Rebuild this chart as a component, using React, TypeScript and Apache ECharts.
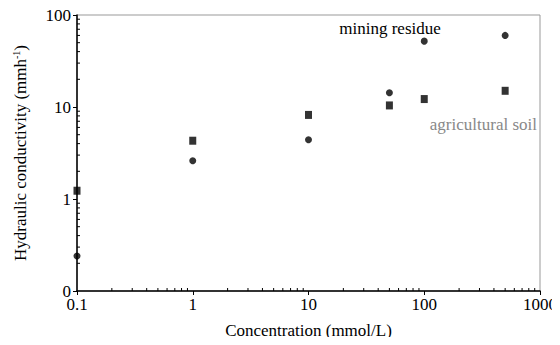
import React, { useEffect, useRef } from "react";
import * as echarts from "echarts";

const concentrations = [0.1, 1, 10, 50, 100, 500];
const miningResidue = [0.24, 2.6, 4.4, 14.3, 52, 60];
const agriculturalSoil = [1.23, 4.3, 8.2, 10.4, 12.2, 15];
const xDecades = [0.1, 1, 10, 100];
const yDecades = [0.1, 1, 10];
const minorMultipliers = [2, 3, 4, 5, 6, 7, 8, 9];

const FONT = "Liberation Serif";

export default function App() {
  const ref = useRef<HTMLDivElement>(null);
  useEffect(() => {
    if (!ref.current) return;
    const chart = echarts.init(ref.current, null, { renderer: "svg" });
    const xMinor: number[][] = [];
    xDecades.forEach((d) => minorMultipliers.forEach((m) => xMinor.push([d * m, 0.1])));
    const yMinor: number[][] = [];
    yDecades.forEach((d) => minorMultipliers.forEach((m) => yMinor.push([0.1, d * m])));

    const minorTick = (dx: number, dy: number) => (params: any, api: any) => {
      const p = api.coord([api.value(0), api.value(1)]);
      return {
        type: "line",
        shape: { x1: p[0], y1: p[1], x2: p[0] + dx, y2: p[1] + dy },
        style: { stroke: "#000", lineWidth: 1, fill: null },
      };
    };

    chart.setOption({
      animation: false,
      grid: {
        left: 77,
        right: 18,
        top: 15,
        bottom: 54,
        show: true,
        borderColor: "#999",
        borderWidth: 1,
        backgroundColor: "transparent",
      },
      xAxis: {
        type: "log",
        logBase: 10,
        min: 0.1,
        max: 1000,
        name: "Concentration (mmol/L)",
        nameLocation: "middle",
        nameGap: 31,
        nameTextStyle: { fontFamily: FONT, fontSize: 17, color: "#000" },
        axisLine: { show: true, lineStyle: { color: "#000", width: 1.5 } },
        axisTick: { show: true, inside: false, length: 4, lineStyle: { color: "#000" } },
        axisLabel: {
          fontFamily: FONT,
          fontSize: 17,
          color: "#000",
          margin: 5,
          formatter: (v: number) => (v < 1 ? "0.1" : String(Math.round(v))),
        },
        splitLine: { show: false },
      },
      yAxis: {
        type: "log",
        logBase: 10,
        min: 0.1,
        max: 100,
        name: "Hydraulic conductivity (mmh{s|-1})",
        nameLocation: "middle",
        nameGap: 48,
        nameRotate: 90,
        nameTextStyle: {
          fontFamily: FONT,
          fontSize: 17,
          color: "#000",
          rich: { s: { fontFamily: FONT, fontSize: 10, color: "#000", verticalAlign: "top", padding: [0, 0, 8, 0] } },
        },
        axisLine: { show: true, lineStyle: { color: "#000", width: 1.5 } },
        axisTick: { show: true, inside: false, length: 4, lineStyle: { color: "#000" } },
        axisLabel: {
          fontFamily: FONT,
          fontSize: 17,
          color: "#000",
          margin: 6,
          formatter: (v: number) => (v < 1 ? "0" : String(Math.round(v))),
        },
        splitLine: { show: false },
      },
      graphic: [
        {
          type: "text",
          x: 390,
          y: 28,
          style: {
            text: "mining residue",
            fontFamily: FONT,
            fontSize: 17,
            fill: "#000",
            align: "center",
            verticalAlign: "middle",
          },
        },
        {
          type: "text",
          x: 537,
          y: 124,
          style: {
            text: "agricultural soil",
            fontFamily: FONT,
            fontSize: 17,
            fill: "#888",
            align: "right",
            verticalAlign: "middle",
          },
        },
      ],
      series: [
        {
          type: "scatter",
          name: "mining residue",
          symbol: "circle",
          symbolSize: 7,
          itemStyle: { color: "#000" },
          data: concentrations.map((c, i) => [c, miningResidue[i]]),
          clip: false,
          z: 5,
        },
        {
          type: "scatter",
          name: "agricultural soil",
          symbol: "rect",
          symbolSize: [7, 8],
          itemStyle: { color: "#000" },
          data: concentrations.map((c, i) => [c, agriculturalSoil[i]]),
          clip: false,
          z: 5,
        },
        {
          type: "custom",
          coordinateSystem: "cartesian2d",
          renderItem: minorTick(0, -3),
          encode: { x: 0, y: 1 },
          data: xMinor,
          clip: false,
          silent: true,
          z: 10,
        },
        {
          type: "custom",
          coordinateSystem: "cartesian2d",
          renderItem: minorTick(3, 0),
          encode: { x: 0, y: 1 },
          data: yMinor,
          clip: false,
          silent: true,
          z: 10,
        },
      ],
    });
    return () => chart.dispose();
  }, []);
  return <div ref={ref} style={{ width: 560, height: 345, margin: -8 }} />;
}
